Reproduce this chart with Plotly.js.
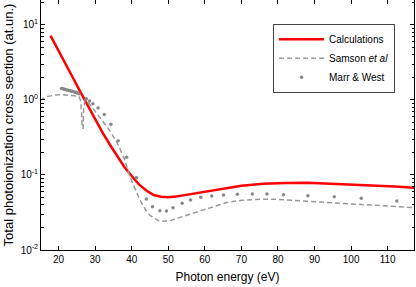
<!DOCTYPE html>
<html>
<head>
<meta charset="utf-8">
<script src="https://cdn.plot.ly/plotly-3.0.1.min.js"></script>
<style>html,body{margin:0;padding:0;background:#fff;}#chart{width:416px;height:287px;}</style>
</head>
<body>
<div id="chart"></div>
<script>
// Calculations (red line)
var calcE = [17.8, 20, 22, 24, 26, 28, 30, 32, 34, 36, 38, 40, 42, 44, 46, 48, 50, 52, 54, 56, 58, 60, 64, 70, 76, 82, 88, 94, 100, 106, 112, 118];
var calcS = [7.2, 4.6, 3.0, 1.95, 1.27, 0.83, 0.55, 0.37, 0.255, 0.177, 0.128, 0.097, 0.075, 0.062, 0.054, 0.0512, 0.0504, 0.0515, 0.0535, 0.056, 0.058, 0.060, 0.065, 0.072, 0.0762, 0.0785, 0.079, 0.077, 0.0745, 0.0722, 0.070, 0.0675];

// Samson et al (gray dashed)
var samE = [15, 16, 17, 18.8, 20.6, 22.5, 24.3, 25.6, 26.0, 26.3, 26.45, 26.7, 26.9, 27.2, 28.5, 30, 32, 34, 36, 38, 39.5, 41, 42.2, 44, 45, 47.7, 50.4, 53, 56, 58.6, 61.3, 64, 66, 70, 75, 80, 84, 88, 92, 97, 102, 107, 112, 118];
var samS = [0.98, 1.06, 1.11, 1.16, 1.18, 1.17, 1.14, 1.10, 1.0, 0.66, 0.42, 0.42, 0.8, 0.98, 0.88, 0.71, 0.53, 0.39, 0.27, 0.165, 0.095, 0.064, 0.047, 0.033, 0.029, 0.024, 0.0244, 0.027, 0.030, 0.0334, 0.0366, 0.0405, 0.043, 0.046, 0.0474, 0.0474, 0.0464, 0.045, 0.0435, 0.042, 0.0405, 0.039, 0.0378, 0.0366];

// Marr & West (gray dots)
var mwE = [20.8, 21.2, 21.6, 22.0, 22.4, 22.8, 23.2, 23.6, 24.0, 24.4, 24.8, 25.2, 25.6, 27.6, 28.5, 29.4, 30.8, 32.5, 34.3, 36.3, 38.6, 41.3, 44.0, 45.7, 47.7, 49.5, 51.3, 53.8, 56.1, 58.9, 61.9, 65.1, 68.9, 73.0, 77.0, 81.5, 88.2, 95.4, 102.8, 112.5];
var mwS = [1.42, 1.41, 1.39, 1.37, 1.36, 1.34, 1.33, 1.31, 1.30, 1.28, 1.26, 1.24, 1.21, 1.04, 0.97, 0.89, 0.78, 0.64, 0.475, 0.287, 0.172, 0.092, 0.048, 0.0378, 0.0334, 0.0331, 0.0366, 0.0419, 0.0464, 0.0504, 0.0525, 0.054, 0.0555, 0.0556, 0.0556, 0.0545, 0.053, 0.0512, 0.049, 0.045];

// y tick labels
var yTickVals = [0.01, 0.1, 1, 10];
var yTickText = ['10<sup>-2</sup>', '10<sup>-1</sup>', '10<sup>0</sup>', '10<sup>1</sup>'];

var names = ['Calculations', 'Samson <i>et al</i>', 'Marr &amp; West'];

var traces = [
  {x: calcE, y: calcS, mode: 'lines', name: names[0], line: {color: '#ff0000', width: 2.5}},
  {x: samE, y: samS, mode: 'lines', name: names[1], line: {color: '#999999', width: 1.5, dash: '5px,3px'}},
  {x: mwE, y: mwS, mode: 'markers', name: names[2], marker: {color: '#888888', size: 3.5}}
];

var layout = {
  width: 416, height: 287,
  margin: {l: 41, r: 2, t: 0, b: 37},
  paper_bgcolor: '#fff', plot_bgcolor: '#fff',
  font: {family: 'Liberation Sans, Arial, sans-serif', color: '#000', size: 10},
  showlegend: true,
  legend: {x: 0.622, y: 0.905, xanchor: 'left', yanchor: 'top', bgcolor: '#fff', bordercolor: '#444', borderwidth: 1, font: {size: 10}, itemwidth: 45},
  xaxis: {
    range: [15.2, 117.2], dtick: 10, tick0: 0,
    showline: true, linecolor: '#000', linewidth: 1, mirror: 'ticks',
    ticks: 'inside', ticklen: 4, tickcolor: '#000', showgrid: false, zeroline: false,
    tickfont: {size: 10},
    title: {text: 'Photon energy (eV)', font: {size: 12}, standoff: 8}
  },
  yaxis: {
    type: 'log', range: [-2, 1.333], tickmode: 'array', tickvals: yTickVals, ticktext: yTickText,
    showline: true, linecolor: '#000', linewidth: 1, mirror: 'ticks',
    ticks: 'inside', ticklen: 4, tickcolor: '#000', showgrid: false, zeroline: false,
    tickfont: {size: 10},
    minor: {ticks: 'inside', ticklen: 2.5, tickcolor: '#000', showgrid: false, tickmode: 'array', tickvals: [0.02,0.03,0.04,0.05,0.06,0.07,0.08,0.09,0.2,0.3,0.4,0.5,0.6,0.7,0.8,0.9,2,3,4,5,6,7,8,9,20]},
    title: {text: 'Total photoionization cross section (at.un.)', font: {size: 13}, standoff: 4}
  }
};

Plotly.newPlot('chart', traces, layout, {displayModeBar: false, staticPlot: true});
</script>
</body>
</html>
